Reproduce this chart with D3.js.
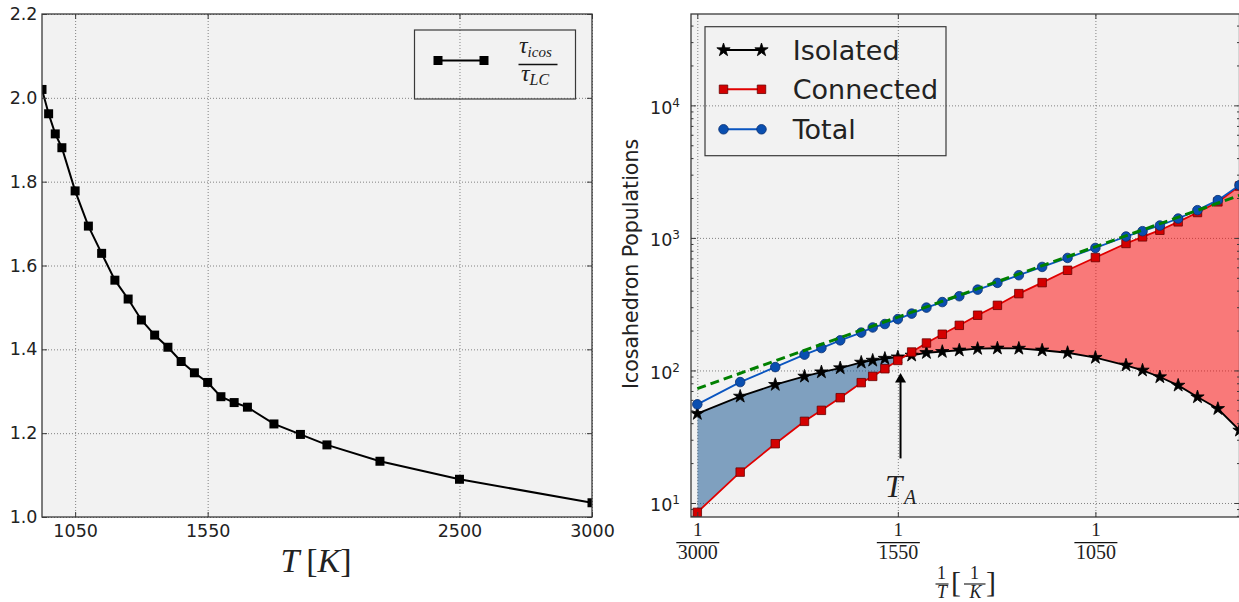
<!DOCTYPE html>
<html><head><meta charset="utf-8">
<script src="https://cdn.jsdelivr.net/npm/d3@7/dist/d3.min.js"></script>
<style>
body{margin:0;background:#fff}
svg{display:block}
text{font-family:"DejaVu Sans",sans-serif;fill:#222}
.serif{font-family:"Liberation Serif","DejaVu Serif",serif}
</style>
</head><body>
<svg id="c" width="1239" height="602"></svg>
<script>
// ---------- data (left panel: tau_icos / tau_LC vs T) ----------
const ratioT = [925, 950, 975, 1000, 1050, 1100, 1150, 1200, 1250, 1300, 1350, 1400, 1450, 1500, 1550, 1600, 1650, 1700, 1800, 1900, 2000, 2200, 2500, 3000];
const ratioValues = [2.020, 1.962, 1.914, 1.881, 1.778, 1.694, 1.629, 1.565, 1.520, 1.470, 1.434, 1.405, 1.371, 1.344, 1.321, 1.287, 1.273, 1.262, 1.222, 1.197, 1.172, 1.133, 1.090, 1.034];
const ratioXTicks = [1050, 1550, 2500, 3000];
const ratioYTicks = [1.0, 1.2, 1.4, 1.6, 1.8, 2.0, 2.2];

// ---------- data (right panel: icosahedron populations vs 1/T) ----------
const popT = [3000, 2500, 2200, 2000, 1900, 1800, 1700, 1650, 1600, 1550, 1500, 1450, 1400, 1350, 1300, 1250, 1200, 1150, 1100, 1050, 1000, 975, 950, 925, 900, 875, 850];
const isolated = [47.2, 63.7, 78.1, 90.2, 97.2, 104.3, 115, 119, 123, 126, 130, 136, 138.5, 142, 146, 147, 146.5, 142, 136, 125, 109.4, 100.2, 89.2, 77.1, 63, 51.4, 35.3];
const connected = [8.5, 17.1, 28.0, 41.3, 50.0, 62.3, 80.9, 90.2, 103, 119, 137.7, 161, 187.6, 219, 261, 310, 380, 460, 570, 711, 908, 1018, 1143, 1321, 1555, 1870, 2460];
const total = [55.5, 81.7, 106, 131.6, 147.6, 168.7, 193, 211, 224, 244, 268.5, 298, 328, 363, 407, 458, 523, 604, 706, 840, 1025, 1124, 1240, 1400, 1619, 1927, 2500];
const fitT = [3000, 850];
const fitValues = [73, 2094];
const popXTicks = [3000, 1550, 1050];
const popYTicks = [10, 100, 1000, 10000];
const popYMinor = [8, 9, 20, 30, 40, 50, 60, 70, 80, 90, 200, 300, 400, 500, 600, 700, 800, 900, 2000, 3000, 4000, 5000, 6000, 7000, 8000, 9000, 20000, 30000, 40000];
const legendLabels = ["Isolated", "Connected", "Total"];
const annotT = 1540, annotTip = 95.6, annotBase = 21.7;

// ---------- setup ----------
const svg = d3.select('#c');
const defs = svg.append('defs');
const L = {x0: 42, x1: 592, y0: 14, y1: 517};
const R = {x0: 691, x1: 1239.5, y0: 14, y1: 517};
const BG = '#f2f2f2', SPINE = '#3a3a3a';

const xL = d3.scaleLinear().domain([925, 3000]).range([L.x0, L.x1]);
const yL = d3.scaleLinear().domain([1.0, 2.2]).range([L.y1, L.y0]);
const xR = d3.scaleLinear().domain([1 / 3091, 1 / 850]).range([R.x0, R.x1]);
const yR = d3.scaleLog().domain([7.84, 48900]).range([R.y1, R.y0]);

function clipRect(id, P) {
  defs.append('clipPath').attr('id', id).append('rect')
    .attr('x', P.x0).attr('y', P.y0).attr('width', P.x1 - P.x0).attr('height', P.y1 - P.y0);
}
clipRect('clipL', L); clipRect('clipR', R);

function background(P) {
  svg.append('rect').attr('x', P.x0).attr('y', P.y0).attr('width', P.x1 - P.x0).attr('height', P.y1 - P.y0).attr('fill', BG);
}
function styleGrid(g) {
  g.select('.domain').remove();
  g.selectAll('text').remove();
  g.selectAll('line').attr('stroke', '#666').attr('stroke-width', 0.8).attr('stroke-dasharray', '1,2');
}
function gridLines(P, xs, xvals, ys, yvals) {
  const gx = svg.append('g').attr('transform', `translate(0,${P.y1})`)
    .call(d3.axisBottom(xs).tickValues(xvals).tickSize(-(P.y1 - P.y0)));
  styleGrid(gx);
  const gy = svg.append('g').attr('transform', `translate(${P.x0},0)`)
    .call(d3.axisLeft(ys).tickValues(yvals).tickSize(-(P.x1 - P.x0)));
  styleGrid(gy);
}
function tickStyle(g) {
  g.select('.domain').remove();
  g.selectAll('line').attr('stroke', SPINE).attr('stroke-width', 1);
}
function frame(P) {
  svg.append('rect').attr('x', P.x0).attr('y', P.y0).attr('width', P.x1 - P.x0).attr('height', P.y1 - P.y0)
    .attr('fill', 'none').attr('stroke', SPINE).attr('stroke-width', 1.3);
}

// ================= LEFT PANEL =================
background(L);
gridLines(L, xL, ratioXTicks, yL, ratioYTicks);

const idxL = d3.range(ratioT.length);
const gL = svg.append('g').attr('clip-path', 'url(#clipL)');
gL.append('path').datum(idxL)
  .attr('d', d3.line().x(i => xL(ratioT[i])).y(i => yL(ratioValues[i])))
  .attr('fill', 'none').attr('stroke', '#000').attr('stroke-width', 2);
gL.selectAll('path.sq').data(idxL).enter().append('path').attr('class', 'sq')
  .attr('transform', i => `translate(${xL(ratioT[i])},${yL(ratioValues[i])})`)
  .attr('d', d3.symbol(d3.symbolSquare).size(81)).attr('fill', '#000');

// axes / ticks
{
  const gb = svg.append('g').attr('transform', `translate(0,${L.y1})`)
    .call(d3.axisBottom(xL).tickValues(ratioXTicks).tickSizeInner(-5).tickSizeOuter(0).tickPadding(8).tickFormat(d3.format('d')));
  tickStyle(gb); gb.selectAll('text').attr('font-size', 17.5).attr('fill', '#222');
  const gt = svg.append('g').attr('transform', `translate(0,${L.y0})`)
    .call(d3.axisTop(xL).tickValues(ratioXTicks).tickSizeInner(-5).tickSizeOuter(0).tickFormat(''));
  tickStyle(gt);
  const gl = svg.append('g').attr('transform', `translate(${L.x0},0)`)
    .call(d3.axisLeft(yL).tickValues(ratioYTicks).tickSizeInner(-5).tickSizeOuter(0).tickPadding(4.5).tickFormat(d3.format('.1f')));
  tickStyle(gl); gl.selectAll('text').attr('font-size', 17.5).attr('fill', '#222');
  const gr = svg.append('g').attr('transform', `translate(${L.x1},0)`)
    .call(d3.axisRight(yL).tickValues(ratioYTicks).tickSizeInner(-5).tickSizeOuter(0).tickFormat(''));
  tickStyle(gr);
}
frame(L);

// x label T [K]
{
  const t = svg.append('text').attr('class', 'serif').attr('x', 316).attr('y', 572)
    .attr('text-anchor', 'middle').attr('font-size', 34).attr('fill', '#111');
  t.append('tspan').attr('font-style', 'italic').text('T');
  t.append('tspan').text('\u2009[');
  t.append('tspan').attr('font-style', 'italic').text('K');
  t.append('tspan').text(']');
}

// left legend
{
  svg.append('rect').attr('x', 414.5).attr('y', 30).attr('width', 161).attr('height', 69)
    .attr('fill', 'none').attr('stroke', SPINE).attr('stroke-width', 1.2);
  svg.append('line').attr('x1', 438).attr('x2', 484).attr('y1', 60.5).attr('y2', 60.5)
    .attr('stroke', '#000').attr('stroke-width', 2);
  [438, 484].forEach(x => svg.append('path').attr('transform', `translate(${x},60.5)`)
    .attr('d', d3.symbol(d3.symbolSquare).size(81)).attr('fill', '#000'));
  const num = svg.append('text').attr('class', 'serif').attr('x', 519).attr('y', 53).attr('font-size', 24).attr('fill', '#111');
  num.append('tspan').attr('font-style', 'italic').text('\u03C4');
  num.append('tspan').attr('font-style', 'italic').attr('font-size', 15).attr('dy', 4).text('icos');
  svg.append('line').attr('x1', 518.5).attr('x2', 557.5).attr('y1', 64.5).attr('y2', 64.5).attr('stroke', '#111').attr('stroke-width', 1.7);
  const den = svg.append('text').attr('class', 'serif').attr('x', 521).attr('y', 80.5).attr('font-size', 24).attr('fill', '#111');
  den.append('tspan').attr('font-style', 'italic').text('\u03C4');
  den.append('tspan').attr('font-style', 'italic').attr('font-size', 16).attr('dy', 4).text('LC');
}

// ================= RIGHT PANEL =================
background(R);
gridLines(R, xR, popXTicks.map(t => 1 / t), yR, popYTicks);

const idxR = d3.range(popT.length);
const px = i => xR(1 / popT[i]);

// difference fills
defs.append('clipPath').attr('id', 'belowIso').append('path').datum(idxR)
  .attr('d', d3.area().x(px).y0(R.y1).y1(i => yR(isolated[i])));
defs.append('clipPath').attr('id', 'belowCon').append('path').datum(idxR)
  .attr('d', d3.area().x(px).y0(R.y1).y1(i => yR(connected[i])));
const gR = svg.append('g').attr('clip-path', 'url(#clipR)');
gR.append('g').attr('clip-path', 'url(#belowIso)').append('path').datum(idxR)
  .attr('d', d3.area().x(px).y0(R.y0).y1(i => yR(connected[i])))
  .attr('fill', '#0c4e8c').attr('fill-opacity', 0.5);
gR.append('g').attr('clip-path', 'url(#belowCon)').append('path').datum(idxR)
  .attr('d', d3.area().x(px).y0(R.y0).y1(i => yR(isolated[i])))
  .attr('fill', '#ff0000').attr('fill-opacity', 0.5);

const series = [
  {vals: isolated, color: '#000', sym: d3.symbolStar, size: 55, fill: '#000', edge: '#000'},
  {vals: connected, color: '#e00000', sym: d3.symbolSquare, size: 72, fill: '#d40000', edge: '#6a0000'},
  {vals: total, color: '#0a55c0', sym: d3.symbolCircle, size: 72, fill: '#0a4fb0', edge: '#0b3070'}
];
series.forEach(s => {
  gR.append('path').datum(idxR)
    .attr('d', d3.line().x(px).y(i => yR(s.vals[i])))
    .attr('fill', 'none').attr('stroke', s.color).attr('stroke-width', 1.8);
  gR.append('g').selectAll('path').data(idxR).enter().append('path')
    .attr('transform', i => `translate(${px(i)},${yR(s.vals[i])})`)
    .attr('d', d3.symbol(s.sym).size(s.size))
    .attr('fill', s.fill).attr('stroke', s.edge).attr('stroke-width', 0.8);
});
// Arrhenius fit (green dashed)
gR.append('path').datum(d3.range(fitT.length))
  .attr('d', d3.line().x(i => xR(1 / fitT[i])).y(i => yR(fitValues[i])))
  .attr('fill', 'none').attr('stroke', '#008000').attr('stroke-width', 3).attr('stroke-dasharray', '9,5');

// ticks
{
  const xt = popXTicks.map(t => 1 / t);
  const gb = svg.append('g').attr('transform', `translate(0,${R.y1})`)
    .call(d3.axisBottom(xR).tickValues(xt).tickSizeInner(-5).tickSizeOuter(0).tickFormat(''));
  tickStyle(gb);
  gb.selectAll('.tick text').remove();
  gb.selectAll('.tick').each(function(d) {
    const g = d3.select(this);
    const den = String(Math.round(1 / d));
    g.append('text').attr('class', 'serif').attr('y', 19).attr('text-anchor', 'middle')
      .attr('font-size', 19).attr('fill', '#111').text('1');
    g.append('line').attr('x1', -21.5).attr('x2', 21.5).attr('y1', 25.7).attr('y2', 25.7)
      .attr('stroke', '#111').attr('stroke-width', 1.3);
    g.append('text').attr('class', 'serif').attr('y', 42.3).attr('text-anchor', 'middle')
      .attr('font-size', 20).attr('fill', '#111').text(den);
  });
  const gt = svg.append('g').attr('transform', `translate(0,${R.y0})`)
    .call(d3.axisTop(xR).tickValues(xt).tickSizeInner(-5).tickSizeOuter(0).tickFormat(''));
  tickStyle(gt);

  const gl = svg.append('g').attr('transform', `translate(${R.x0},0)`)
    .call(d3.axisLeft(yR).tickValues(popYTicks).tickSizeInner(-5).tickSizeOuter(0).tickPadding(11).tickFormat(''));
  tickStyle(gl);
  gl.selectAll('.tick text').each(function(d) {
    const t = d3.select(this).attr('font-size', 17.5).attr('fill', '#222').attr('dy', '0.45em');
    t.append('tspan').text('10');
    t.append('tspan').attr('font-size', 12).attr('dy', -7).text(String(Math.round(Math.log10(d))));
  });
  const glm = svg.append('g').attr('transform', `translate(${R.x0},0)`)
    .call(d3.axisLeft(yR).tickValues(popYMinor).tickSizeInner(-2.5).tickSizeOuter(0).tickFormat(''));
  tickStyle(glm);
  const gr = svg.append('g').attr('transform', `translate(${R.x1},0)`)
    .call(d3.axisRight(yR).tickValues(popYTicks).tickSizeInner(-5).tickSizeOuter(0).tickFormat(''));
  tickStyle(gr);
  const grm = svg.append('g').attr('transform', `translate(${R.x1},0)`)
    .call(d3.axisRight(yR).tickValues(popYMinor).tickSizeInner(-2.5).tickSizeOuter(0).tickFormat(''));
  tickStyle(grm);
}
frame(R);

// y label
svg.append('text').attr('transform', 'translate(638,264) rotate(-90)').attr('text-anchor', 'middle')
  .attr('font-size', 20.5).attr('fill', '#111').text('Icosahedron Populations');

// x label 1/T [1/K]
{
  const s = svg.append('g');
  s.append('text').attr('class', 'serif').attr('x', 941.5).attr('y', 579.3).attr('text-anchor', 'middle').attr('font-size', 18).attr('fill', '#111').text('1');
  s.append('line').attr('x1', 935.5).attr('x2', 948.5).attr('y1', 584).attr('y2', 584).attr('stroke', '#111').attr('stroke-width', 1.1);
  s.append('text').attr('class', 'serif').attr('x', 942).attr('y', 598.3).attr('text-anchor', 'middle').attr('font-size', 18).attr('font-style', 'italic').attr('fill', '#111').text('T');
  s.append('text').attr('class', 'serif').attr('x', 956).attr('y', 592).attr('text-anchor', 'middle').attr('font-size', 30).attr('fill', '#111').text('[');
  s.append('text').attr('class', 'serif').attr('x', 974.5).attr('y', 579.3).attr('text-anchor', 'middle').attr('font-size', 18).attr('fill', '#111').text('1');
  s.append('line').attr('x1', 964).attr('x2', 985.5).attr('y1', 584).attr('y2', 584).attr('stroke', '#111').attr('stroke-width', 1.1);
  s.append('text').attr('class', 'serif').attr('x', 975.5).attr('y', 598.3).attr('text-anchor', 'middle').attr('font-size', 18).attr('font-style', 'italic').attr('fill', '#111').text('K');
  s.append('text').attr('class', 'serif').attr('x', 991).attr('y', 592).attr('text-anchor', 'middle').attr('font-size', 30).attr('fill', '#111').text(']');
}

// annotation arrow T_A
{
  const ax = xR(1 / annotT), yTip = yR(annotTip), yBase = yR(annotBase);
  svg.append('line').attr('x1', ax).attr('x2', ax).attr('y1', yBase).attr('y2', yTip + 8)
    .attr('stroke', '#000').attr('stroke-width', 2);
  svg.append('path').attr('d', `M${ax},${yTip} L${ax - 5.5},${yTip + 9.5} L${ax + 5.5},${yTip + 9.5} Z`).attr('fill', '#000');
  svg.append('text').attr('class', 'serif').attr('x', ax - 15.5).attr('y', yBase + 39)
    .attr('font-size', 31).attr('font-style', 'italic').attr('fill', '#111').text('T');
  svg.append('text').attr('class', 'serif').attr('x', ax + 3.5).attr('y', yBase + 46)
    .attr('font-size', 20).attr('font-style', 'italic').attr('fill', '#111').text('A');
}

// right legend
{
  svg.append('rect').attr('x', 705).attr('y', 26.7).attr('width', 241).attr('height', 129)
    .attr('fill', 'none').attr('stroke', SPINE).attr('stroke-width', 1.2);
  const ys = [50, 89.3, 129.3];
  series.forEach((s, k) => {
    const y = ys[k];
    svg.append('line').attr('x1', 723.5).attr('x2', 761.5).attr('y1', y).attr('y2', y)
      .attr('stroke', s.color).attr('stroke-width', 2);
    [723.5, 761.5].forEach(x => svg.append('path').attr('transform', `translate(${x},${y})`)
      .attr('d', d3.symbol(s.sym).size(s.size)).attr('fill', s.fill).attr('stroke', s.edge).attr('stroke-width', 0.8));
    svg.append('text').attr('x', 792.7).attr('y', y + 10).attr('font-size', 27).attr('fill', '#111').text(legendLabels[k]);
  });
}
</script>
</body></html>
